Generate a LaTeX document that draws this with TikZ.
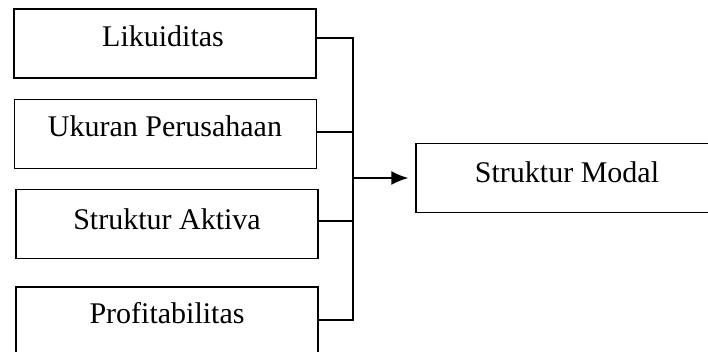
\documentclass[tikz,border=0pt]{standalone}
\usepackage{fontspec}
\setmainfont{Liberation Serif}
\usetikzlibrary{arrows.meta}
\begin{document}
\begin{tikzpicture}[x=1pt,y=-1pt,
  boxst/.style={draw, line width=1.5pt, minimum width=302pt, minimum height=69pt, inner sep=0pt},
  lbl/.style={anchor=base, inner sep=0pt, font=\fontsize{30}{36}\selectfont},
  wire/.style={line width=1.5pt},
  arr/.style={line width=1.5pt, -{Latex[length=17pt,width=14pt]}}]
\useasboundingbox (0,0) rectangle (708,352);
\node[boxst] (b1) at (165,43.5) {};
\node[boxst] (b2) at (165.5,134) {};
\node[boxst] (b3) at (167,224) {};
\node[boxst] (b4) at (167,321.5) {};
\node[boxst] (bm) at (567,178) {};
\node[lbl] (t1) at (163,47) {Likuiditas};
\node[lbl] (t2) at (165,137) {Ukuran Perusahaan};
\node[lbl] (t3) at (167,230) {Struktur Aktiva};
\node[lbl] (t4) at (167,323) {Profitabilitas};
\node[lbl] (tm) at (567,183) {Struktur Modal};
\coordinate (j1) at (353,38);
\coordinate (j2) at (353,132);
\coordinate (j3) at (353,221);
\coordinate (j4) at (353,320);
\coordinate (jm) at (353,178);
\draw[wire] (b1.east |- j1) -- (j1) -- (j4) -- ([xshift=-2pt]b4.east |- j4);
\draw[wire] (b2.east |- j2) -- (j2);
\draw[wire] (b3.east |- j3) -- (j3);
\draw[arr] (jm) -- ([xshift=-7pt]bm.west);
\end{tikzpicture}
\end{document}
